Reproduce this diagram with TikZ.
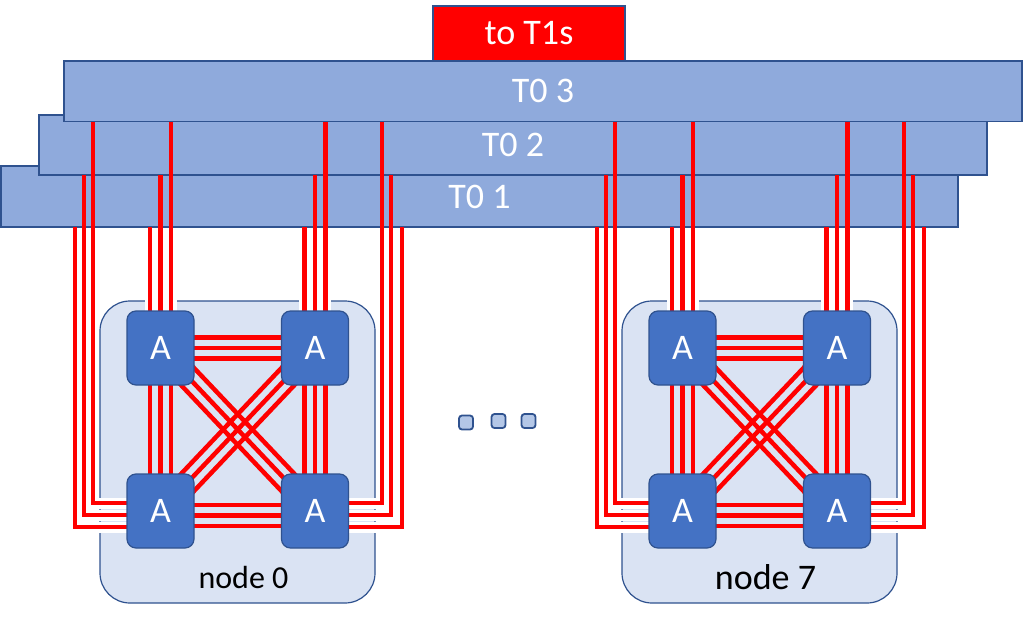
\documentclass[tikz,border=0pt]{standalone}
\usepackage{fontspec}
\setmainfont{Carlito}
\usetikzlibrary{positioning,calc}
\definecolor{barblue}{HTML}{8FAADC}
\definecolor{lineblue}{HTML}{2F528F}
\definecolor{ablue}{HTML}{4472C4}
\definecolor{nodeblue}{HTML}{DAE3F3}
\definecolor{dotblue}{HTML}{B4C7E7}
\definecolor{linkred}{HTML}{FF0000}
\pgfdeclarelayer{boxes}
\pgfdeclarelayer{halos}
\pgfdeclarelayer{bars}
\pgfdeclarelayer{links}
\pgfsetlayers{boxes,halos,bars,links,main}
\newcommand{\bigfont}{\fontsize{36}{40}\selectfont}

\begin{document}
\begin{tikzpicture}[x=1pt, y=-1pt,
    bar/.style={draw=lineblue, line width=1.5pt, fill=barblue, text=white,
      font=\bigfont, inner sep=0pt, outer sep=0pt},
    server/.style={draw=lineblue, line width=1.2pt, fill=nodeblue, rounded corners=30pt,
      minimum width=275pt, minimum height=302pt, inner sep=0pt, outer sep=0pt},
    accel/.style={draw=lineblue, line width=1.2pt, fill=ablue, rounded corners=9pt,
      text=white, font=\bigfont, minimum width=67pt, minimum height=74pt,
      inner sep=0pt, outer sep=0pt},
    link/.style={linkred, line width=4.5pt},
    halo/.style={white, line width=11pt},
    dotbox/.style={draw=lineblue, line width=1.8pt, fill=dotblue, rounded corners=3pt,
      minimum size=14pt, inner sep=0pt}]
    \useasboundingbox (0,0) rectangle (1024,623);

    % Tier-0 switches, back to front
    \begin{pgfonlayer}{bars}
    \node[bar, minimum width=957pt, minimum height=61pt] (b1) at (479.5,196.5) {T0 1};
    \node[bar, minimum width=948pt, minimum height=60pt] (b2) at (513,145) {T0 2};
    \node[bar, minimum width=958pt, minimum height=60.5pt] (b3) at (543,91.25) {T0 3};
    \node[bar, fill=linkred, minimum width=192pt, minimum height=54.5pt] (t1) at (529,33.25) {to T1s};
    \end{pgfonlayer}

    % Servers (node 7 is node 0 shifted right)
    \foreach \k/\dx/\fs in {0/0/32, 7/522/36} {
        \begin{pgfonlayer}{boxes}
        \node[server] (n\k) at (237.5+\dx,452) {};
        \end{pgfonlayer}
        \node[font=\fontsize{\fs}{\fs}\selectfont] (lbl\k) at ([xshift=6pt,yshift=26pt]n\k.south) {node \k};

        % Accelerators
        \node[accel] (tl\k) at (160.5+\dx,348) {A};
        \node[accel] (tr\k) at (315+\dx,348) {A};
        \node[accel] (bl\k) at (160.5+\dx,511) {A};
        \node[accel] (br\k) at (315+\dx,511) {A};

        % All-to-all links inside the server
        \begin{pgfonlayer}{links}
        \foreach \o in {-10.5,0,10.5} {
            \draw[link] ($(tl\k.center)+(0,\o)$) -- ($(tr\k.center)+(0,\o)$);
            \draw[link] ($(bl\k.center)+(0,\o+4.5)$) -- ($(br\k.center)+(0,\o+4.5)$);
            \draw[link] ($(tl\k.center)+(\o,0)$) -- ($(bl\k.center)+(\o,0)$);
            \draw[link] ($(tr\k.center)+(\o,0)$) -- ($(br\k.center)+(\o,0)$);
        }
        \foreach \o/\m in {-7.5/7.5, 0/0, 7.5/-7.5} {
            \draw[link] ($(tl\k.center)+(\o,\m)$) -- ($(br\k.center)+(\o,\m)$);
            \draw[link] ($(tr\k.center)+(\o,\o)$) -- ($(bl\k.center)+(\o,\o)$);
        }
        \end{pgfonlayer}

        % Uplinks to the T0 switches (white halo first, then red)
        \foreach \lay/\sty in {halos/halo, links/link} {
            \begin{pgfonlayer}{\lay}
            \foreach \o/\b in {-10.5/b1, 0/b2, 10.5/b3} {
                \draw[\sty] ([xshift=\o pt]tl\k.center) -- ([xshift=\o pt]tl\k.center |- \b.south);
                \draw[\sty] ([xshift=\o pt]tr\k.center) -- ([xshift=\o pt]tr\k.center |- \b.south);
            }
            \foreach \dl/\dy/\b in {-85.5/16/b1, -76.5/4/b2, -67.5/-8/b3} {
                \draw[\sty] ($(bl\k.center)+(0,\dy)$) -| ($(bl\k.center |- \b.south)+(\dl,0)$);
            }
            \foreach \dr/\dy/\b in {87/16/b1, 76/4/b2, 67/-8/b3} {
                \draw[\sty] ($(br\k.center)+(0,\dy)$) -| ($(br\k.center |- \b.south)+(\dr,0)$);
            }
            \end{pgfonlayer}
        }
    }

    % Dots between the servers
    \node[dotbox] (d1) at (466,422.5) {};
    \node[dotbox] (d2) at (498.5,421) {};
    \node[dotbox] (d3) at (528.5,421) {};
\end{tikzpicture}
\end{document}
